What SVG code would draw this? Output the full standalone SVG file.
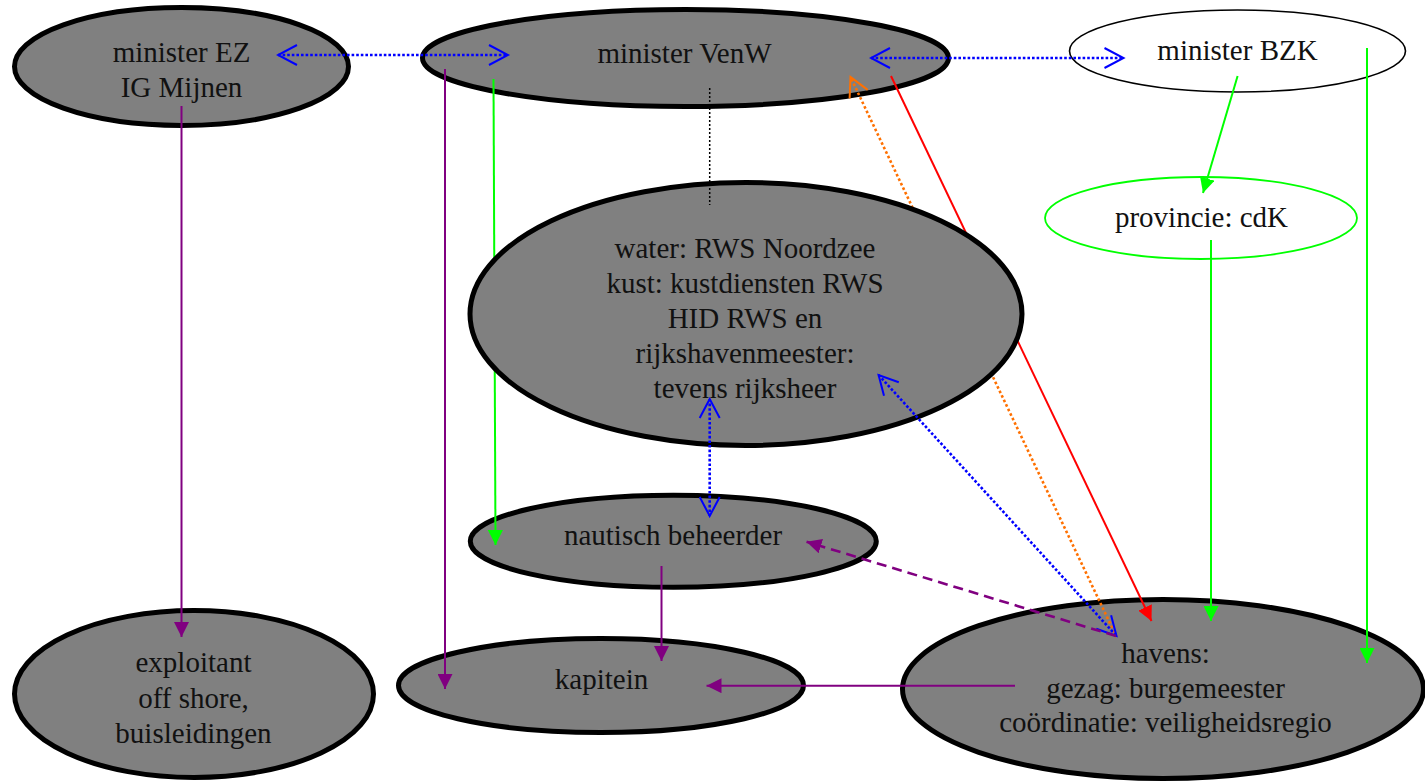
<svg xmlns="http://www.w3.org/2000/svg" width="1425" height="783" viewBox="0 0 1425 783">
<style>
.node{fill:#808080;stroke:#000;stroke-width:5}
.thin{fill:#fff;stroke:#000;stroke-width:1.6}
.green-node{fill:#fff;stroke:#00ff00;stroke-width:1.8}
text{font-family:"Liberation Serif","Times New Roman",serif;font-size:29px;fill:#111;text-anchor:middle}
.c{fill:none;stroke-width:2}
.purple{stroke:#800080}
.green{stroke:#00ff00}
.red{stroke:#ff0000}
.blue{stroke:#0000ff;stroke-width:2.6;stroke-dasharray:2.6 2}
.orange{stroke:#ff7000;stroke-width:2.6;stroke-dasharray:2.6 2.4}
.black{stroke:#000;stroke-width:1.5;stroke-dasharray:2 2}
.dash{stroke:#800080;stroke-width:2.6;stroke-dasharray:10 6}
</style>
<defs>
<marker id="ap" viewBox="0 0 15 15" refX="15" refY="7.5" markerWidth="15" markerHeight="15" markerUnits="userSpaceOnUse" orient="auto"><path d="M0,0 L15,7.5 L0,15 Z" fill="#800080"/></marker>
<marker id="ag" viewBox="0 0 15 15" refX="15" refY="7.5" markerWidth="15" markerHeight="15" markerUnits="userSpaceOnUse" orient="auto"><path d="M0,0 L15,7.5 L0,15 Z" fill="#00ff00"/></marker>
<marker id="ar" viewBox="0 0 15 15" refX="15" refY="7.5" markerWidth="15" markerHeight="15" markerUnits="userSpaceOnUse" orient="auto"><path d="M0,0 L15,7.5 L0,15 Z" fill="#ff0000"/></marker>
<marker id="vb" viewBox="-2 -2 23 24" refX="19" refY="10" markerWidth="23" markerHeight="24" markerUnits="userSpaceOnUse" orient="auto-start-reverse"><path d="M0,0 L19,10 L0,20" fill="none" stroke="#0000ff" stroke-width="2"/></marker>
<marker id="vo" viewBox="-2 -2 23 24" refX="19" refY="10" markerWidth="23" markerHeight="24" markerUnits="userSpaceOnUse" orient="auto"><path d="M0,0 L19,10 L0,20" fill="none" stroke="#ff7000" stroke-width="2"/></marker>
</defs>

<g id="node-ez">
<ellipse class="node" cx="181.5" cy="66.5" rx="167" ry="59"/>
<text><tspan x="181.5" y="62">minister EZ</tspan><tspan x="181.5" y="97">IG Mijnen</tspan></text>
</g>
<g id="node-venw">
<ellipse class="node" cx="685.5" cy="58" rx="263" ry="48.5"/>
<text x="684.5" y="63">minister VenW</text>
</g>
<g id="node-bzk">
<ellipse class="thin" cx="1237.5" cy="51" rx="168" ry="41"/>
<text x="1237.5" y="60">minister BZK</text>
</g>
<g id="node-provincie">
<ellipse class="green-node" cx="1201" cy="218" rx="156" ry="41"/>
<text x="1201.5" y="227">provincie: cdK</text>
</g>
<g id="node-nautisch">
<ellipse class="node" cx="673.3" cy="541.3" rx="203" ry="46"/>
<text x="673" y="545">nautisch beheerder</text>
</g>
<g id="node-kapitein">
<ellipse class="node" cx="601" cy="685.5" rx="202.5" ry="47"/>
<text x="601.5" y="689">kapitein</text>
</g>
<g id="node-exploitant">
<ellipse class="node" cx="194" cy="694" rx="179.5" ry="83.5"/>
<text><tspan x="193.5" y="672">exploitant</tspan><tspan x="193.5" y="708">off shore,</tspan><tspan x="193.5" y="743">buisleidingen</tspan></text>
</g>
<g id="node-havens">
<ellipse class="node" cx="1163" cy="689" rx="260.5" ry="89.5"/>
<text><tspan x="1165.5" y="663">havens:</tspan><tspan x="1165.5" y="697.5">gezag: burgemeester</tspan><tspan x="1165.5" y="732">coördinatie: veiligheidsregio</tspan></text>
</g>

<g id="connectors-under">
<line class="c green" x1="493.5" y1="79" x2="495.5" y2="545" marker-end="url(#ag)"/>
<line class="c red" x1="891" y1="76" x2="1151.5" y2="621" marker-end="url(#ar)"/>
<line class="c orange" x1="1116.5" y1="637" x2="850.5" y2="77" marker-end="url(#vo)"/>
</g>

<g id="node-rws">
<ellipse class="node" cx="746" cy="314" rx="276" ry="131.5"/>
<text><tspan x="745" y="258">water: RWS Noordzee</tspan><tspan x="745" y="293">kust: kustdiensten RWS</tspan><tspan x="745" y="328">HID RWS en</tspan><tspan x="745" y="363">rijkshavenmeester:</tspan><tspan x="745" y="398">tevens rijksheer</tspan></text>
</g>

<g id="connectors">
<line class="c blue" x1="278" y1="55" x2="508" y2="55" marker-start="url(#vb)" marker-end="url(#vb)"/>
<line class="c blue" x1="871" y1="58" x2="1123.5" y2="58" marker-start="url(#vb)" marker-end="url(#vb)"/>
<line class="c blue" x1="709.7" y1="399" x2="709.7" y2="516" marker-start="url(#vb)" marker-end="url(#vb)"/>
<line class="c blue" x1="878.6" y1="375" x2="1116.5" y2="636" marker-start="url(#vb)" marker-end="url(#vb)"/>
<line class="c black" x1="709.7" y1="88" x2="709.7" y2="205"/>
<line class="c purple" x1="181.5" y1="106" x2="181.5" y2="637" marker-end="url(#ap)"/>
<line class="c purple" x1="445" y1="69" x2="445" y2="689" marker-end="url(#ap)"/>
<line class="c purple" x1="661.5" y1="566" x2="661.5" y2="661" marker-end="url(#ap)"/>
<line class="c purple" x1="1015" y1="685.7" x2="706.5" y2="685.7" marker-end="url(#ap)"/>
<line class="c dash" x1="1116" y1="636" x2="806.5" y2="541.7" marker-end="url(#ap)"/>
<line class="c green" x1="1237.6" y1="76" x2="1203" y2="193" marker-end="url(#ag)"/>
<line class="c green" x1="1211" y1="240" x2="1211" y2="621" marker-end="url(#ag)"/>
<line class="c green" x1="1367" y1="48" x2="1367" y2="663" marker-end="url(#ag)"/>
</g>
</svg>
